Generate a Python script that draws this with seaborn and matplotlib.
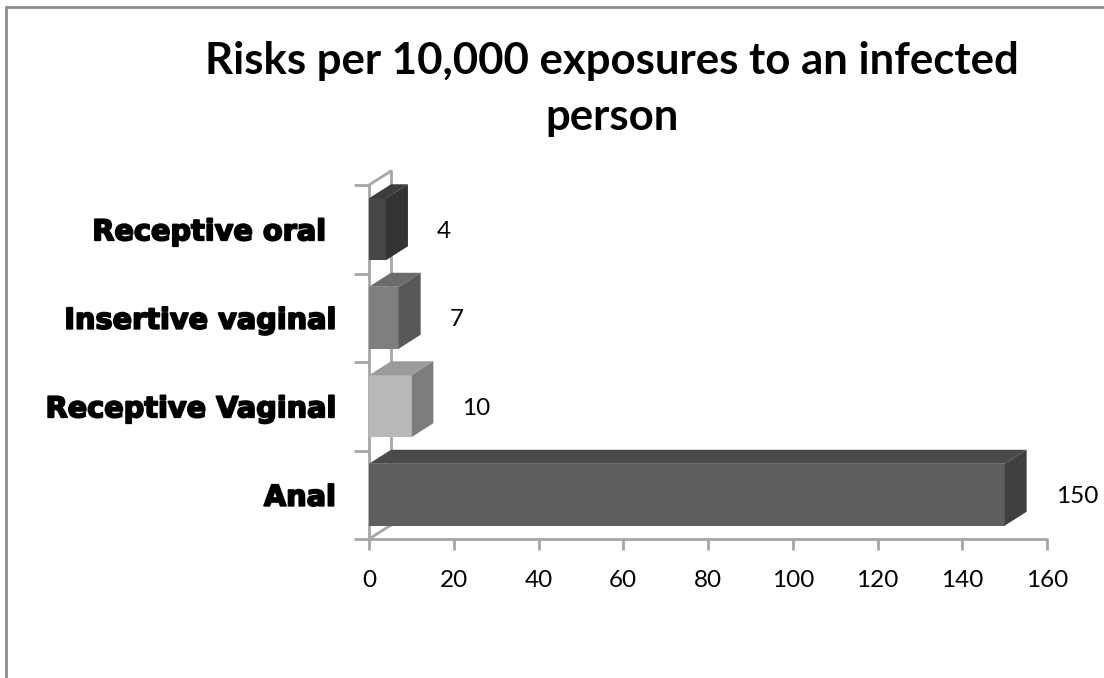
import matplotlib
matplotlib.use("Agg")
import matplotlib.pyplot as plt
import matplotlib.patheffects as pe
from matplotlib.patches import Polygon
from matplotlib.lines import Line2D
import seaborn as sns
import pandas as pd

# ---- data ----
categories = ["Receptive oral ", "Insertive vaginal", "Receptive Vaginal", "Anal"]
values = [4, 7, 10, 150]
front_colors = ["#474747", "#7f7f7f", "#b9b9b9", "#5f5f5f"]
top_colors = ["#3c3c3c", "#6b6b6b", "#9b9b9b", "#4a4a4a"]
side_colors = ["#333333", "#585858", "#7d7d7d", "#404040"]
x_ticks = [0, 20, 40, 60, 80, 100, 120, 140, 160]
title = "Risks per 10,000 exposures to an infected\nperson"

sns.set_theme(style="white")
plt.rcParams["font.family"] = ["Lato", "DejaVu Sans"]
plt.rcParams["text.color"] = "black"
plt.rcParams["xtick.color"] = "black"
plt.rcParams["ytick.color"] = "black"

W, H = 1104, 678
fig = plt.figure(figsize=(W / 100, H / 100), dpi=100)
ax = fig.add_axes([369 / W, (H - 539) / H, 678 / W, (539 - 185) / H])

df = pd.DataFrame({"cat": categories, "val": values})
sns.barplot(data=df, y="cat", x="val", order=categories, hue="cat",
            palette=front_colors, width=0.7, orient="h", ax=ax,
            legend=False, saturation=1, edgecolor="none", linewidth=0, zorder=3)

ax.set_xlim(0, 160)
ax.set_ylim(3.5, -0.5)

# depth offset in data units
fig.canvas.draw()
p0 = ax.transData.transform((0, 0))
px = ax.transData.transform((1, 0))[0] - p0[0]
py = p0[1] - ax.transData.transform((0, 1))[1]
dx = 22 / px
dy = 14 / abs(py)

wall = "#a6a6a6"
ax.plot([0, 0], [3.5, -0.5], color=wall, lw=2, zorder=1, clip_on=False)
ax.plot([0, dx], [-0.5, -0.5 - dy], color=wall, lw=2, zorder=1, clip_on=False)
ax.plot([dx, dx], [-0.5 - dy, 3.5 - dy], color=wall, lw=2, zorder=1, clip_on=False)
ax.plot([0, dx], [3.5, 3.5 - dy], color=wall, lw=2, zorder=1, clip_on=False)
ax.plot([0, 160], [3.5, 3.5], color=wall, lw=2, zorder=1, clip_on=False)

for i, patch in enumerate(ax.patches):
    x0 = patch.get_x()
    y0 = patch.get_y()
    w = patch.get_width()
    h = patch.get_height()
    ytop = y0
    ybot = y0 + h
    top = Polygon([(x0, ytop), (x0 + w, ytop), (x0 + w + dx, ytop - dy), (x0 + dx, ytop - dy)],
                  closed=True, facecolor=top_colors[i], edgecolor="none", zorder=3, clip_on=False)
    side = Polygon([(x0 + w, ytop), (x0 + w + dx, ytop - dy), (x0 + w + dx, ybot - dy), (x0 + w, ybot)],
                   closed=True, facecolor=side_colors[i], edgecolor="none", zorder=3, clip_on=False)
    ax.add_patch(top)
    ax.add_patch(side)
    ax.annotate(f"{values[i]:g}", xy=(x0 + w, y0 + h / 2), xytext=(51, -2),
                textcoords="offset pixels", ha="left", va="center",
                fontsize=17.5, color="black", fontfamily=["Lato", "DejaVu Sans"])

for s in ax.spines.values():
    s.set_visible(False)

ax.set_xticks(x_ticks)
ax.set_xticklabels([str(t) for t in x_ticks], fontsize=17.5)
ax.tick_params(axis="x", bottom=True, length=8, width=2, color=wall, pad=14, labelcolor="black")
ax.set_yticks(range(len(categories)))
ax.set_yticklabels(categories, fontsize=20.7, fontweight="bold", family=["DejaVu Sans"])
for lab in ax.get_yticklabels():
    lab.set_path_effects([pe.withStroke(linewidth=1.3, foreground="black")])
ax.tick_params(axis="y", left=False, pad=18, labelcolor="black")
ax.set_yticks([-0.5, 0.5, 1.5, 2.5, 3.5], minor=True)
ax.tick_params(axis="y", which="minor", left=True, length=11, width=2, color=wall)
ax.set_xlabel("")
ax.set_ylabel("")
ax.grid(False)

fig.text(612 / W, 1 - 89 / H, title, ha="center", va="center", fontsize=31.5,
         fontweight="bold", linespacing=1.47, color="black", family=["Lato", "DejaVu Sans"])

fig.add_artist(Line2D([6 / W, 6 / W], [0, 1 - 7 / H], color="#8c8c8c", lw=2))
fig.add_artist(Line2D([6 / W, 1], [1 - 7 / H, 1 - 7 / H], color="#8c8c8c", lw=2))

fig.savefig("out.png", dpi=100)
